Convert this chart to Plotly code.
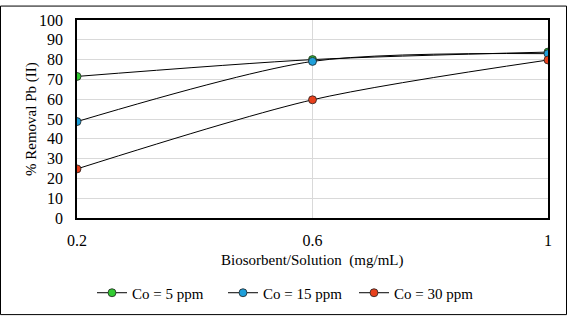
import plotly.graph_objects as go

x_vals = [0.2, 0.6, 1.0]
co5 = [71.5, 80.0, 83.8]
co15 = [48.7, 79.1, 83.0]
co30 = [24.8, 59.7, 79.8]
series_names = ["Co = 5 ppm", "Co = 15 ppm", "Co = 30 ppm"]
colors = ["#33CC33", "#1E9FDA", "#E8401C"]
x_ticks = [0.2, 0.6, 1.0]
x_tick_labels = ["0.2", "0.6", "1"]

W, H = 567, 322
L, R, T, B = 77, 19, 15, 101
pw, ph = W - L - R, H - T - B

fig = go.Figure()
for name, ys, c in zip(series_names, [co5, co15, co30], colors):
    fig.add_trace(go.Scatter(
        x=x_vals, y=ys, name=name, mode="lines+markers",
        line=dict(color="#000000", width=1, shape="spline", smoothing=0.8),
        marker=dict(color=c, size=8, line=dict(color="#222222", width=0.8)),
    ))

font = "Liberation Serif, Times New Roman, serif"
fig.update_layout(
    width=W, height=H,
    margin=dict(l=L, r=R, t=T, b=B),
    paper_bgcolor="white", plot_bgcolor="white",
    font=dict(family=font, size=15, color="#000000"),
    showlegend=True,
    legend=dict(orientation="h", x=(92 - L) / pw, xanchor="left", y=(T + ph - 299) / ph,
                yanchor="middle", font=dict(size=15), itemwidth=30,
                entrywidth=86, entrywidthmode="pixels",
                tracegroupgap=0, bgcolor="rgba(0,0,0,0)"),
    xaxis=dict(range=[0.2, 1.0], tickvals=x_ticks, ticktext=x_tick_labels,
               showgrid=True, gridcolor="#D9D9D9", gridwidth=1,
               showline=True, linecolor="#000000", linewidth=1.5, mirror=True,
               ticks="", zeroline=False, tickfont=dict(size=16), ticklabelstandoff=7),
    yaxis=dict(range=[0, 100], tickvals=list(range(0, 101, 10)),
               showgrid=True, gridcolor="#D9D9D9", gridwidth=1,
               showline=True, linecolor="#000000", linewidth=1.5, mirror=True,
               ticks="", zeroline=False, tickfont=dict(size=16), ticklabelstandoff=9),
    annotations=[
        dict(text="Biosorbent/Solution  (mg/mL)", xref="paper", yref="paper",
             x=(312 - L) / pw, y=(T + ph - 265) / ph, showarrow=False,
             xanchor="center", yanchor="middle", font=dict(size=15)),
        dict(text="% Removal Pb (II)", xref="paper", yref="paper",
             x=(31 - L) / pw, y=(T + ph - 118) / ph, showarrow=False, textangle=-90,
             xanchor="center", yanchor="middle", font=dict(size=15)),
    ],
    shapes=[dict(type="rect", xref="paper", yref="paper",
                 x0=(0.5 - L) / pw, x1=(W - 0.5 - L) / pw,
                 y0=(T + ph - (H - 0.5)) / ph, y1=(T + ph - 0.5) / ph,
                 line=dict(color="#000000", width=1), layer="above")],
)
fig.write_html("out.html")
